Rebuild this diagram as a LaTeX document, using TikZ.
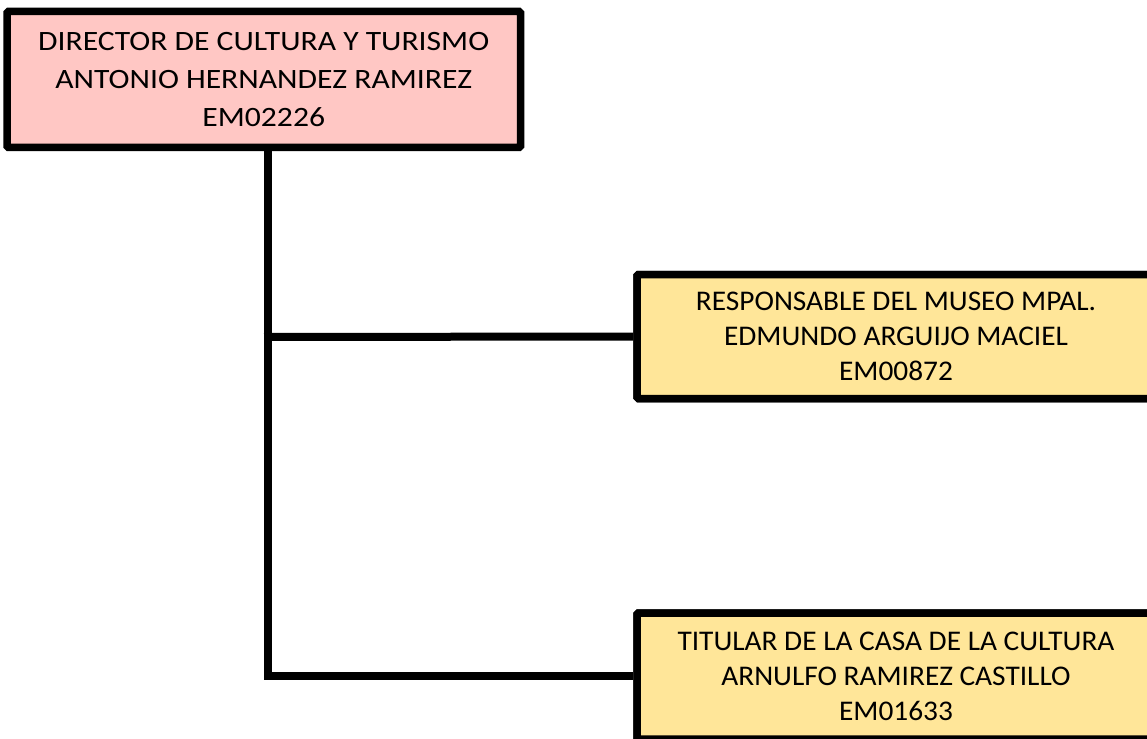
\documentclass[tikz,border=0pt]{standalone}
\usepackage{fontspec}
\setmainfont{Carlito}
\newfontfamily\jefefont[FakeStretch=1.13]{Carlito}
\newfontfamily\areafont[FakeStretch=1.03]{Carlito}
\begin{document}
\begin{tikzpicture}[x=1pt,y=-1pt,
  cargo/.style={draw=black,line width=7.5pt,rounded corners=1.5pt,align=center,inner sep=0pt},
  jefe/.style={cargo,fill=pinkfill,minimum width=513.5pt,minimum height=136pt,
    font=\fontsize{28}{37.8}\jefefont},
  area/.style={cargo,fill=goldfill,minimum width=518pt,minimum height=124pt,
    font=\fontsize{28.5}{35}\areafont},
  enlace/.style={line width=8pt}]
\definecolor{pinkfill}{HTML}{FFC7C4}
\definecolor{goldfill}{HTML}{FFE699}
\useasboundingbox (0,0) rectangle (1147,738);
\clip (0,0) rectangle (1147,738);
% connectors first, boxes drawn over their ends
\coordinate (tronco) at (268,147.5);
\coordinate (rama) at (264,337);
\node[area] (museo) at (896,336.5) {RESPONSABLE DEL MUSEO MPAL.\\EDMUNDO ARGUIJO MACIEL\\EM00872};
\node[area,minimum height=126pt] (casa) at (896,676) {TITULAR DE LA CASA DE LA CULTURA\\ARNULFO RAMIREZ CASTILLO\\EM01633};
\draw[enlace] (tronco) |- (casa.west);
\draw[enlace] (rama) -- (museo.west);
\node[jefe] (director) at (263.75,79.5) {DIRECTOR DE CULTURA Y TURISMO\\ANTONIO HERNANDEZ RAMIREZ\\EM02226};
\node[area] at (museo) {RESPONSABLE DEL MUSEO MPAL.\\EDMUNDO ARGUIJO MACIEL\\EM00872};
\node[area,minimum height=126pt] at (casa) {TITULAR DE LA CASA DE LA CULTURA\\ARNULFO RAMIREZ CASTILLO\\EM01633};
\end{tikzpicture}
\end{document}
